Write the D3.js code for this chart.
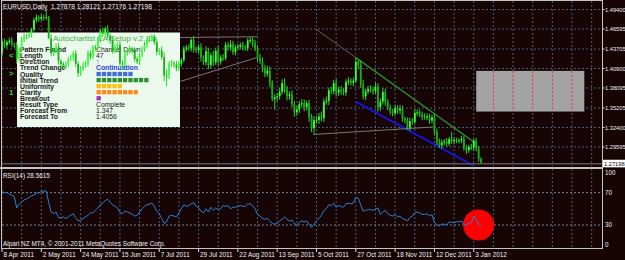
<!DOCTYPE html>
<html>
<head>
<meta charset="utf-8">
<script src="https://cdn.jsdelivr.net/npm/d3@7"></script>
<style>
body { margin: 0; background: #170506; }
svg { display: block; font-family: "Liberation Sans", Arial, sans-serif; }
</style>
</head>
<body>
<script>
// EURUSD daily closes, one per trading day from 8 Apr 2011 to 6 Jan 2012
var closes = [1.4478,
  1.4425,1.4470,1.4490,1.4440,1.4430, 1.4230,1.4360,1.4510,1.4550,1.4560,
  1.4580,1.4650,1.4790,1.4825,1.4805, 1.4830,1.4825,1.4830,1.4525,1.4310,
  1.4345,1.4405,1.4195,1.4150,1.4120, 1.4150,1.4225,1.4240,1.4305,1.4155,
  1.4025,1.4090,1.4135,1.4165,1.4310, 1.4260,1.4395,1.4385,1.4500,1.4635,
  1.4590,1.4665,1.4560,1.4495,1.4345, 1.4400,1.4435,1.4165,1.4150,1.4310,
  1.4335,1.4370,1.4350,1.4225,1.4190, 1.4285,1.4370,1.4430,1.4500,1.4525,
  1.4540,1.4470,1.4330,1.4350,1.4255, 1.3990,1.3985,1.4155,1.4165,1.4150,
  1.4090,1.4160,1.4210,1.4370,1.4395, 1.4380,1.4500,1.4370,1.4355,1.4395,
  1.4245,1.4180,1.4340,1.4140,1.4280, 1.4180,1.4345,1.4190,1.4245,1.4240,
  1.4430,1.4395,1.4440,1.4325,1.4395, 1.4405,1.4430,1.4395,1.4380,1.4495,
  1.4500,1.4450,1.4380,1.4245,1.4200, 1.4095,1.4015,1.4060,1.3880,1.3650,
  1.3675,1.3690,1.3755,1.3880,1.3790, 1.3690,1.3715,1.3580,1.3460,1.3500,
  1.3575,1.3590,1.3535,1.3590,1.3390, 1.3230,1.3345,1.3350,1.3400,1.3375,
  1.3615,1.3625,1.3775,1.3765,1.3880, 1.3740,1.3785,1.3760,1.3745,1.3895,
  1.3915,1.3885,1.3915,1.4185,1.4145, 1.3860,1.3690,1.3760,1.3795,1.3790,
  1.3765,1.3830,1.3535,1.3615,1.3750, 1.3605,1.3530,1.3475,1.3450,1.3520,
  1.3485,1.3510,1.3365,1.3345,1.3240, 1.3330,1.3320,1.3450,1.3460,1.3430,
  1.3395,1.3390,1.3400,1.3340,1.3385, 1.3180,1.3030,1.2985,1.3025,1.3040,
  1.3005,1.3075,1.3045,1.3060,1.3045, 1.3055,1.3075,1.2950,1.2915,1.2960,
  1.2950,1.3050,1.2940,1.2788,1.27198];
var firstOpen = 1.4305;
// wick lengths in pips above / below the body
var hiWick = [35,40,30,45,50,25,40,30,35,45, 30,40,25,35,45,30,40,30,110,15,
  60,40,45,55,30,35,40,30,45,35, 50,40,35,45,30,40,45,30,35,40,
  30,45,30,50,35,60,40,30,55,45, 35,40,50,30,45,40,30,35,40,30,
  35,40,45,50,35,60,70,90,40,45, 35,50,40,30,45,35,40,30,55,40,
  45,60,35,70,50,40,65,45,70,40, 55,40,45,60,50,35,40,35,45,30,
  35,48,40,55,45,60,50,45,70,60, 40,45,50,60,55,70,50,45,60,40,
  50,45,60,55,40,50,45,60,55,50, 70,45,60,40,50,45,60,40,55,45,
  40,50,35,45,62,30,60,70,40,45, 55,40,60,50,45,60,50,45,40,35,
  50,40,55,45,30,40,55,45,50,40, 45,40,50,45,35,40,60,45,50,40,
  35,45,30,100,40,35,30,45,50,40, 35,45,30,40,35,24];
var loWick = [40,35,45,30,40,45,75,35,30,40, 35,30,40,25,35,40,30,45,35,10,
  45,40,35,50,45,30,40,35,30,40, 45,57,40,35,30,45,40,35,40,30,
  35,40,30,45,50,40,35,45,40,75, 40,35,30,45,40,35,50,30,35,40,
  30,45,40,50,45,40,80,148,45,40, 50,40,35,45,30,40,35,45,50,40,
  45,55,40,50,60,45,55,40,60,45, 40,35,50,45,40,45,35,40,45,35,
  40,45,50,40,55,45,60,50,45,60, 30,155,60,50,45,55,60,50,45,65,
  50,55,45,60,50,70,55,84,50,60, 45,55,50,60,45,50,55,45,50,40,
  50,45,40,50,35,60,50,45,55,40, 45,50,40,65,55,45,50,40,45,50,
  40,45,50,40,45,28,50,40,35,45, 40,50,35,45,50,40,55,45,40,50,
  45,40,35,40,45,30,35,40,45,57, 40,35,50,45,40,2];
// RSI(14)
var rsi = [71,70,70,68,67,65,51,56, 58,61,62,64,66,67,69,70,
  71,72,72,58,46,44,46,39, 39,40,38,40,42,44,39,35,
  36,38,40,42,45,45,48,51, 55,57,60,62,58,55,53,51,
  46,44,47,46,45,43,41,42, 46,50,53,55,56,57,53,47,
  44,38,32,34,41,42,41,40, 45,50,55,53,54,56,58,53,
  52,47,45,50,46,52,48,51, 49,50,54,53,54,50,52,52,
  53,54,53,53,56,56,54,50, 43,41,38,37,38,35,32,31,
  32,35,37,40,37,35,36,32, 30,33,35,34,35,31,27,31,
  35,38,42,48,50,55,54,57, 52,54,53,52,56,57,56,57,
  64,63,55,47,48,49,49,48, 50,51,43,46,48,44,42,41,
  43,40,41,38,37,35,39,41, 45,46,45,43,43,44,41,43,
  33,30,29,31,31,30,34,33, 33,34,34,35,31,30,32,33,
  41,36,31,28.56];

var dateLabels = ["8 Apr 2011","2 May 2011","24 May 2011","15 Jun 2011","7 Jul 2011","29 Jul 2011",
  "22 Aug 2011","13 Sep 2011","5 Oct 2011","27 Oct 2011","18 Nov 2011","12 Dec 2011","3 Jan 2012"];
var dateBars = [0,16,32,48,64,80,96,112,128,144,160,176,192];
var priceTicks = [1.49400,1.46595,1.43705,1.40900,1.38095,1.35205,1.32400,1.29595];
var rsiTicks = [100,70,30,0];
var rsiLevels = [70,30];
var bid = 1.27198;
var header = "EURUSD,Daily  1.27878 1.28121 1.27176 1.27198";

// autochartist pattern
var channelTop = [[127.5,1.4664],[144,1.4247],[192.5,1.3020]];
var channelBottom = [[144,1.3612],[191.8,1.2693]];
var supportLine = [[126.6,1.3140],[175.5,1.3248]];
var triTop = [[72.5,1.4537],[104,1.4548]];
var triBottom = [[72.5,1.3903],[104,1.4251]];
var forecastFrom = 1.347, forecastTo = 1.4056;
var forecastBars = [193,237];
var markBar = 194, markLevel = 30;

var panelLabels = ["Pattern Found","Length","Direction","Trend Change","Quality","Initial Trend",
  "Uniformity","Clarity","Breakout","Result Type","Forecast From","Forecast To"];
var panelValues = ["Channel Down","47","\u2191","Continuation","","","","","","Complete",
  String(forecastFrom), String(forecastTo)];
var scoreRows = [4,5,6,7,8];
var scores = [7,10,5,8,1];
var scoreColors = ["#3d6fe0","#2f8f2f","#ffc20a","#ff8a1c","#a030c8"];

var W = 625, H = 260;
var svg = d3.select("body").append("svg").attr("width", W).attr("height", H);

var x = d3.scaleLinear().domain([0, 244.2]).range([2, 602]);
var y = d3.scaleLinear().domain([1.26859, 1.50480]).range([166, 2]);
var yr = d3.scaleLinear().domain([0, 100]).range([249.3, 168.3]);

var defs = svg.append("defs");
defs.append("clipPath").attr("id","cm").append("rect").attr("x",2).attr("y",1).attr("width",600).attr("height",165);
defs.append("clipPath").attr("id","cr").append("rect").attr("x",2).attr("y",169.5).attr("width",600).attr("height",78.5);

var gridCol = "#4b5c70";
var vGrid = d3.range(0, 31).map(function(k){ return k*8; });

var main = svg.append("g").attr("clip-path","url(#cm)");
main.selectAll(".vg").data(vGrid).enter().append("line")
  .attr("x1", function(d){ return x(d); }).attr("x2", function(d){ return x(d); })
  .attr("y1", 1).attr("y2", 166)
  .attr("stroke", gridCol).attr("stroke-dasharray","2,2");
main.selectAll(".hg").data(priceTicks).enter().append("line")
  .attr("x1", 2).attr("x2", 602)
  .attr("y1", function(d){ return y(d); }).attr("y2", function(d){ return y(d); })
  .attr("stroke", gridCol).attr("stroke-dasharray","2,2");

// forecast box
main.append("rect")
  .attr("x", x(forecastBars[0])).attr("width", x(forecastBars[1]) - x(forecastBars[0]))
  .attr("y", y(forecastTo)).attr("height", y(forecastFrom) - y(forecastTo))
  .attr("fill", "#a3a3a3");
main.selectAll(".fg").data(vGrid.filter(function(d){ return d > forecastBars[0] && d < forecastBars[1]; }))
  .enter().append("line")
  .attr("x1", function(d){ return x(d); }).attr("x2", function(d){ return x(d); })
  .attr("y1", y(forecastTo)).attr("y2", y(forecastFrom))
  .attr("stroke", "#e8323c").attr("stroke-dasharray","2,2");

// info panel
var panel = main.append("g");
panel.append("rect").attr("x",17).attr("y",32.5).attr("width",163).attr("height",94.5).attr("fill","#ebf8ec");
panel.append("text").attr("x",53).attr("y",41).attr("font-size",8).attr("fill","#3cb43c")
  .text("Autochartist EA Setup v.2.1.0");
panelLabels.forEach(function(t, r){
  var ty = 52.3 + r*6.05;
  panel.append("text").attr("x",20).attr("y",ty).attr("font-size",6.8).attr("font-weight","bold")
    .attr("fill","#1a1a1a").text(t);
  var v = panelValues[r];
  if (v) {
    var blue = (r === 2 || r === 3);
    panel.append("text").attr("x",96).attr("y", ty)
      .attr("font-size", r === 2 ? 7 : 6.8)
      .attr("font-weight", blue ? "bold" : "normal")
      .attr("fill", blue ? "#1f3fe0" : "#1a1a1a").text(v);
  }
});
scoreRows.forEach(function(r, j){
  var ty = 52.3 + r*6.05;
  panel.selectAll(null).data(d3.range(scores[j])).enter().append("rect")
    .attr("x", function(k){ return 96.5 + k*5.3; }).attr("y", ty - 4.6)
    .attr("width", 4.3).attr("height", 4.3).attr("fill", scoreColors[j]);
});

// pattern lines
var pl = d3.line().x(function(d){ return x(d[0]); }).y(function(d){ return y(d[1]); });
main.append("path").attr("d", pl(channelTop.slice(0,2))).attr("fill","none").attr("stroke","#5e5e5e");
main.append("path").attr("d", pl(channelTop.slice(1))).attr("fill","none").attr("stroke","#2a8f2a").attr("stroke-width",1.4);
main.append("path").attr("d", pl(channelBottom)).attr("fill","none").attr("stroke","#1414ff").attr("stroke-width",1.6);
[supportLine, triTop, triBottom].forEach(function(l){
  main.append("path").attr("d", pl(l)).attr("fill","none").attr("stroke","#767676");
});

// candles
var bars = closes.map(function(c, i){
  var o = i === 0 ? firstOpen : closes[i-1];
  return { i: i, o: o, c: c,
    h: Math.max(o, c) + hiWick[i]/10000,
    l: Math.min(o, c) - loWick[i]/10000 };
});
main.selectAll(".wk").data(bars).enter().append("line")
  .attr("x1", function(d){ return x(d.i); }).attr("x2", function(d){ return x(d.i); })
  .attr("y1", function(d){ return y(d.h); }).attr("y2", function(d){ return y(d.l); })
  .attr("stroke", "#22d822").attr("stroke-width", 1);
main.selectAll(".bd").data(bars).enter().append("rect")
  .attr("x", function(d){ return x(d.i) - 0.9; }).attr("width", 1.8)
  .attr("y", function(d){ return y(Math.max(d.o, d.c)); })
  .attr("height", function(d){ return Math.max(1, Math.abs(y(d.o) - y(d.c))); })
  .attr("fill", function(d){ return d.c >= d.o ? "#3cff3c" : "#16b016"; });

// bid line
main.append("line").attr("x1",2).attr("x2",602).attr("y1",y(bid)).attr("y2",y(bid))
  .attr("stroke","#55555d").attr("stroke-width",1.5);

svg.append("text").attr("x",3).attr("y",9).attr("font-size",6.6).attr("fill","#f0f0f0")
  .attr("xml:space","preserve").style("white-space","pre").text(header);
[["<",55],[">",73],["1",92]].forEach(function(m){
  svg.append("text").attr("x",9).attr("y",m[1]+3).attr("font-size",8).attr("font-weight","bold")
    .attr("fill","#2ed12e").text(m[0]);
});

// RSI window
var sub = svg.append("g").attr("clip-path","url(#cr)");
sub.selectAll(".vg").data(vGrid).enter().append("line")
  .attr("x1", function(d){ return x(d); }).attr("x2", function(d){ return x(d); })
  .attr("y1", 169).attr("y2", 248)
  .attr("stroke", gridCol).attr("stroke-dasharray","2,2");
sub.selectAll(".lv").data(rsiLevels).enter().append("line")
  .attr("x1", 2).attr("x2", 602)
  .attr("y1", function(d){ return yr(d); }).attr("y2", function(d){ return yr(d); })
  .attr("stroke", "#7a8290").attr("stroke-dasharray","2,2");
sub.append("circle").attr("cx", x(markBar)).attr("cy", yr(markLevel)).attr("r", 15.5).attr("fill","#ff0000");
sub.append("path")
  .attr("d", d3.line().x(function(d, i){ return x(i); }).y(function(d){ return yr(d); })(rsi))
  .attr("fill","none").attr("stroke","#2a80d8").attr("stroke-width",1);
svg.append("text").attr("x",3).attr("y",177.5).attr("font-size",6.4).attr("fill","#f0f0f0").text("RSI(14) 28.5615");
svg.append("text").attr("x",3).attr("y",245.5).attr("font-size",6.4).attr("fill","#f0f0f0")
  .text("Alpari NZ MT4, \u00a9 2001-2011 MetaQuotes Software Corp.");

// frames
var frameCol = "#c4c4c4";
svg.append("line").attr("x1",1.5).attr("x2",1.5).attr("y1",0).attr("y2",249).attr("stroke",frameCol);
svg.append("line").attr("x1",602.5).attr("x2",602.5).attr("y1",0).attr("y2",249).attr("stroke",frameCol);
svg.append("line").attr("x1",1.5).attr("x2",602.5).attr("y1",0.5).attr("y2",0.5).attr("stroke",frameCol);
svg.append("rect").attr("x",0).attr("y",167).attr("width",603).attr("height",2).attr("fill",frameCol);
svg.append("line").attr("x1",1.5).attr("x2",602.5).attr("y1",248.5).attr("y2",248.5).attr("stroke",frameCol);

// price axis
svg.selectAll(".pt").data(priceTicks).enter().append("line")
  .attr("x1",602).attr("x2",604.5).attr("y1",function(d){ return y(d); }).attr("y2",function(d){ return y(d); })
  .attr("stroke","#e0e0e0");
svg.selectAll(".pl").data(priceTicks).enter().append("text")
  .attr("x",605).attr("y",function(d){ return y(d) + 2.2; })
  .attr("font-size",5.7).attr("fill","#f0f0f0").text(function(d){ return d.toFixed(5); });
svg.append("rect").attr("x",603).attr("y",y(bid) - 3.9).attr("width",22).attr("height",7.6).attr("fill","#ffffff");
svg.append("text").attr("x",604).attr("y",y(bid) + 2.2).attr("font-size",5.7).attr("fill","#000").text(bid.toFixed(5));

// rsi axis
svg.selectAll(".rt").data(rsiTicks).enter().append("text")
  .attr("x",605)
  .attr("y",function(d){ return Math.min(Math.max(yr(d), 173), 245) + 2.3; })
  .attr("font-size",6.3).attr("fill","#f0f0f0").text(function(d){ return d; });

// date axis
svg.selectAll(".dt").data(dateBars).enter().append("line")
  .attr("x1",function(d){ return x(d); }).attr("x2",function(d){ return x(d); })
  .attr("y1",249).attr("y2",252).attr("stroke","#e0e0e0");
svg.selectAll(".dl").data(dateLabels).enter().append("text")
  .attr("x",function(d, i){ return x(dateBars[i]) + 1.5; }).attr("y",256.5)
  .attr("font-size",6.4).attr("fill","#f0f0f0").text(function(d){ return d; });
</script>
</body>
</html>
